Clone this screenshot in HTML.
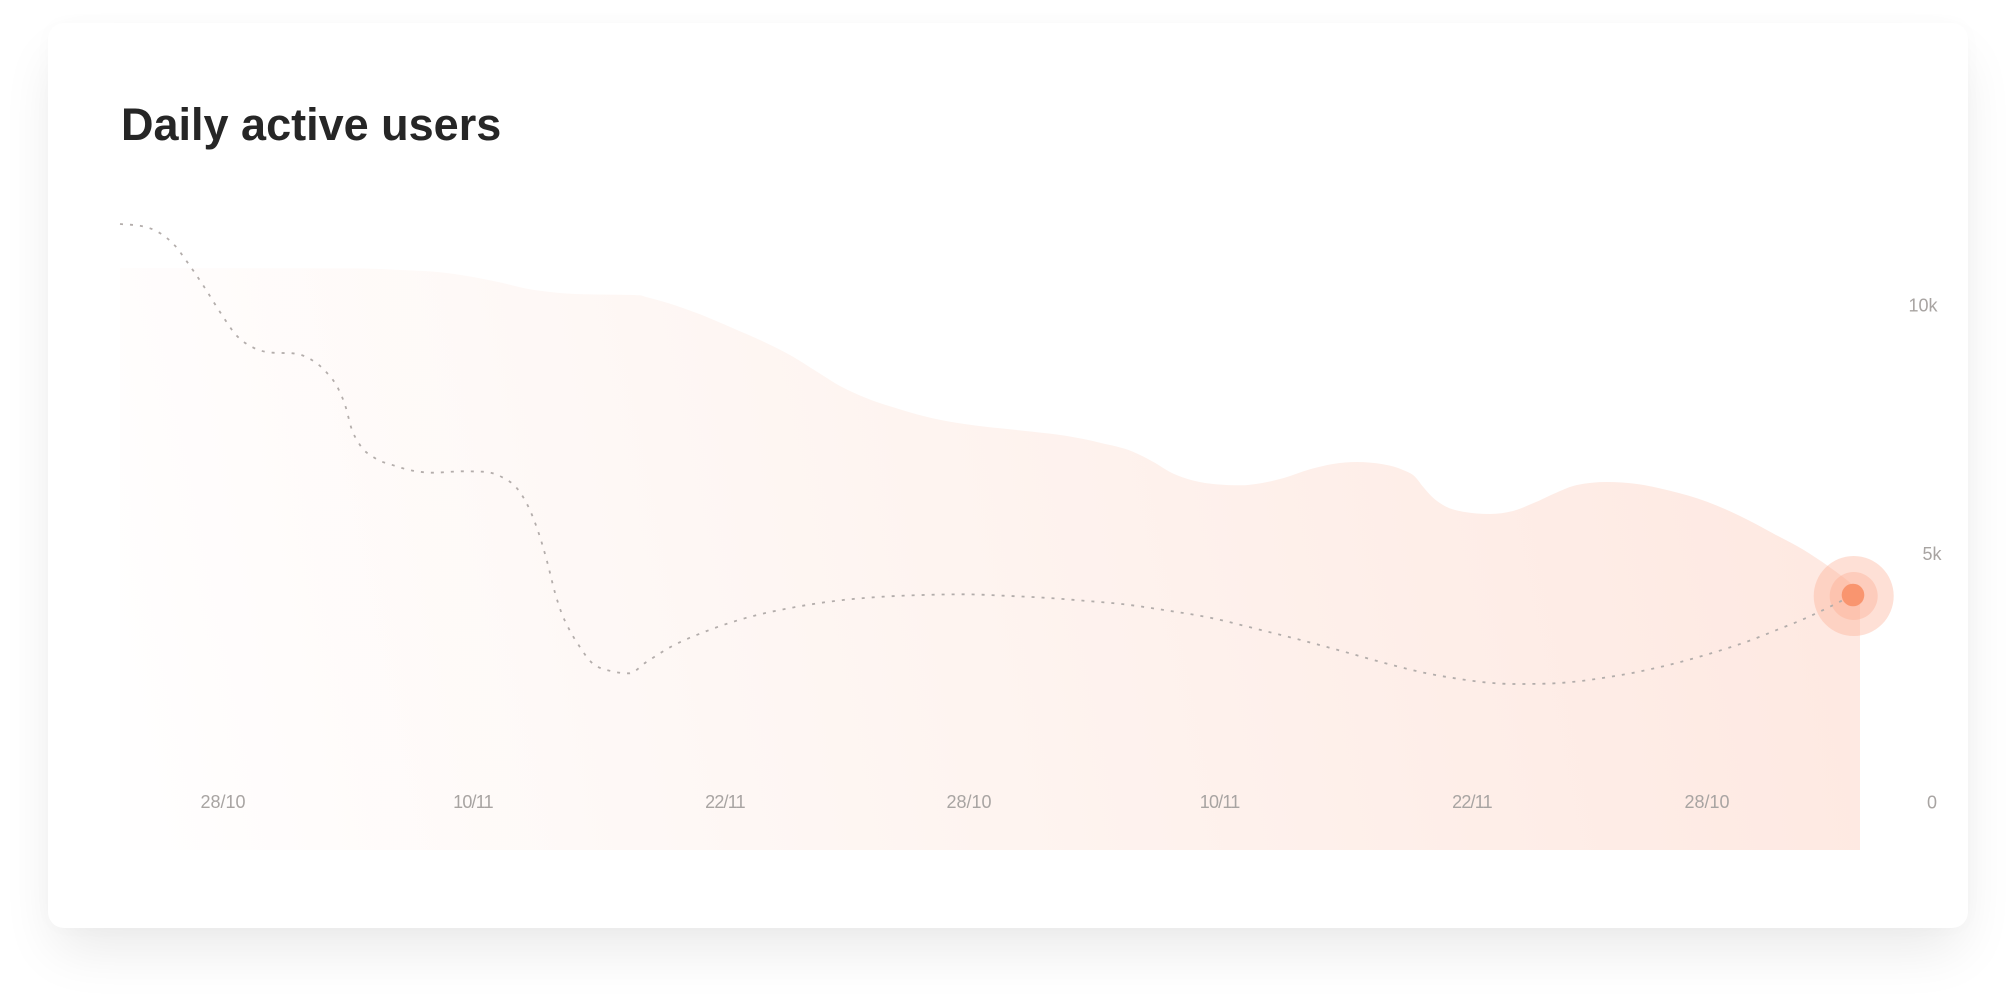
<!DOCTYPE html>
<html lang="en">
<head>
<meta charset="utf-8">
<title>Daily active users</title>
<style>
  html, body { margin: 0; padding: 0; width: 2016px; height: 1000px; background: #fff; overflow: hidden; }
  #card { position: absolute; left: 48px; top: 23px; width: 1920px; height: 905px; border-radius: 16px; background: #fff;
    box-shadow: 0 28px 56px -8px rgba(0,0,0,.09), 0 0 20px rgba(0,0,0,.018); }
  #title { position: absolute; left: 121px; top: 99px; font: bold 45px/52px "Liberation Sans", sans-serif; color: #262626; white-space: nowrap; }
  #chart { position: absolute; left: 0; top: 0; }
  #chart text { font-family: "Liberation Sans", sans-serif; font-size: 18px; fill: #a8a4a2; }
</style>
</head>
<body>
<div id="card"></div>
<svg id="chart" width="2016" height="1000" viewBox="0 0 2016 1000">
  <defs>
    <linearGradient id="areaFill" gradientUnits="userSpaceOnUse" x1="120" y1="760" x2="1790" y2="420">
      <stop offset="0" stop-color="#fffefe"/>
      <stop offset="0.5" stop-color="#fef4f0"/>
      <stop offset="1" stop-color="#fee9e2"/>
    </linearGradient>
  </defs>
  <path id="area" fill="url(#areaFill)"></path>
  <g id="xAxis"></g>
  <g id="yAxis"></g>
  <circle id="haloOuter" r="40" fill="rgba(252,170,140,.36)"></circle>
  <circle id="haloInner" r="24" fill="rgba(252,170,140,.36)"></circle>
  <path id="line" fill="none" stroke="#b3adab" stroke-width="1.8" stroke-dasharray="3 7"></path>
  <circle id="core" r="11.3" fill="#f9956f"></circle>
</svg>
<div id="title">Daily active users</div>
<script>
const lineDays = [0,1.05,1.99,2.75,3.35,4.19,4.99,5.85,6.67,7.64,8.64,9.59,10.34,10.92,11.3,11.55,11.99,12.74,13.67,14.64,15.64,17.14,18.14,19.09,19.89,20.4,20.95,21.37,21.74,22.04,22.45,22.97,23.57,24.47,25.47,26.27,27.5,29.34,31.23,33.69,36.15,38.15,40.15,42.17,44.18,46.19,48.2,50.2,52.2,54.65,56.9,58.9,60.9,63.8,65.27,66.75,68.24,69.74,71.22,72.72,74.22,75.7,77.15,78.62,80.04,81.47,82.87,84.27,85.6,86.65];
const lineUsers = [11630,11590,11449,11193,10871,10376,9865,9376,9141,9040,9028,8893,8638,8310,7927,7545,7189,6921,6774,6666,6626,6654,6646,6539,6291,5956,5392,4815,4225,3843,3481,3133,2811,2642,2589,2803,3113,3441,3696,3917,4064,4131,4165,4179,4151,4111,4050,3978,3863,3696,3475,3274,3058,2736,2595,2489,2408,2374,2380,2420,2501,2602,2730,2883,3052,3245,3467,3696,3950,4165];
const areaDays = [0,11.85,14,16,17.35,19,20.5,21.5,23.15,25.65,26,26.3,27.35,29,30.65,32.35,33.65,34.85,36,37.35,39,40.65,42.35,44,45.65,47.35,49,50.65,51.65,52.65,53.65,54.85,56,57,58.15,59.5,60.65,61.85,63.15,64.15,64.75,65.15,65.6,66.15,67.15,68.5,69.65,70.65,71.85,72.85,74.35,75.85,77.5,79.35,81,82.65,84.15,85.4,86.15,87];
const areaUsers = [10744,10738,10704,10658,10583,10456,10316,10261,10215,10201,10195,10161,10046,9813,9531,9229,8960,8658,8370,8122,7901,7720,7599,7519,7450,7364,7229,7048,6847,6610,6469,6392,6372,6412,6513,6694,6801,6841,6795,6680,6545,6344,6143,5976,5841,5795,5855,6010,6231,6378,6438,6398,6263,6042,5754,5406,5080,4748,4527,4245];
const xTickDays = [5.15,17.65,30.25,42.45,54.98,67.6,79.35];
const xTickLabels = ['28/10','10/11','22/11','28/10','10/11','22/11','28/10'];
const yTickValues = [10000,5000,0];
const yTickLabels = ['10k','5k','0'];

const xScale = d => 120 + d * 20;
const yScale = v => 802 - v * 0.0497;
const plotBottom = 850;
const svgNS = 'http://www.w3.org/2000/svg';

function monotonePath(xs, ys, startWithMove) {
  const n = xs.length, dx = [], m = [], t = [];
  for (let i = 0; i < n - 1; i++) { dx[i] = xs[i + 1] - xs[i]; m[i] = (ys[i + 1] - ys[i]) / dx[i]; }
  t[0] = m[0]; t[n - 1] = m[n - 2];
  for (let i = 1; i < n - 1; i++) {
    if (m[i - 1] * m[i] <= 0) { t[i] = 0; continue; }
    const p = (m[i - 1] * dx[i] + m[i] * dx[i - 1]) / (dx[i - 1] + dx[i]);
    t[i] = (Math.sign(m[i - 1]) + Math.sign(m[i])) * Math.min(Math.abs(m[i - 1]), Math.abs(m[i]), 0.5 * Math.abs(p));
  }
  let d = (startWithMove ? 'M' : 'L') + xs[0].toFixed(2) + ' ' + ys[0].toFixed(2);
  for (let i = 0; i < n - 1; i++) {
    const h = dx[i] / 3;
    d += 'C' + (xs[i] + h).toFixed(2) + ' ' + (ys[i] + h * t[i]).toFixed(2) + ' ' +
         (xs[i + 1] - h).toFixed(2) + ' ' + (ys[i + 1] - h * t[i + 1]).toFixed(2) + ' ' +
         xs[i + 1].toFixed(2) + ' ' + ys[i + 1].toFixed(2);
  }
  return d;
}

const areaXs = areaDays.map(xScale), areaYs = areaUsers.map(yScale);
document.getElementById('area').setAttribute('d',
  'M' + areaXs[0] + ' ' + plotBottom + monotonePath(areaXs, areaYs, false) + 'L' + areaXs[areaXs.length - 1] + ' ' + plotBottom + 'Z');

const lineXs = lineDays.map(xScale), lineYs = lineUsers.map(yScale);
document.getElementById('line').setAttribute('d', monotonePath(lineXs, lineYs, true));

const lastX = lineXs[lineXs.length - 1], lastY = lineYs[lineYs.length - 1];
for (const id of ['haloOuter', 'haloInner']) {
  const c = document.getElementById(id);
  c.setAttribute('cx', lastX + 0.7);
  c.setAttribute('cy', lastY + 1);
}
const core = document.getElementById('core');
core.setAttribute('cx', lastX);
core.setAttribute('cy', lastY);

const xAxis = document.getElementById('xAxis');
xTickDays.forEach((d, i) => {
  const el = document.createElementNS(svgNS, 'text');
  
  
  el.setAttribute('x', xScale(d));
  el.setAttribute('y', yScale(0) + 6);
  el.setAttribute('text-anchor', 'middle');
  if (xTickLabels[i].endsWith('11')) el.setAttribute('letter-spacing', '-0.8');
  el.textContent = xTickLabels[i];
  xAxis.appendChild(el);
});

const yAxis = document.getElementById('yAxis');
yTickValues.forEach((v, i) => {
  const el = document.createElementNS(svgNS, 'text');
  
  
  el.setAttribute('x', yTickLabels[i].length > 2 ? 1923 : 1932);
  el.setAttribute('y', yScale(v) + 6.5);
  el.setAttribute('text-anchor', 'middle');
  el.textContent = yTickLabels[i];
  yAxis.appendChild(el);
});
</script>
</body>
</html>
